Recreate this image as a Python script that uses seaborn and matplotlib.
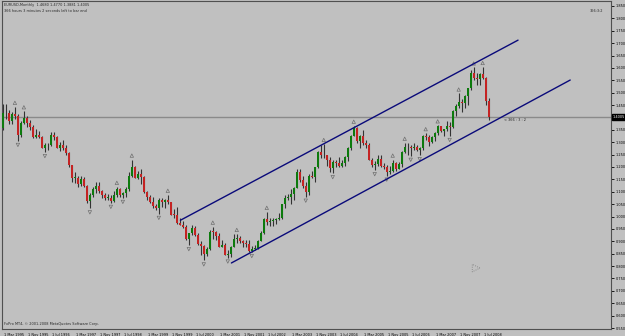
import numpy as np
import pandas as pd
import matplotlib
matplotlib.use("Agg")
import matplotlib.pyplot as plt
import matplotlib.transforms as mtrans
import seaborn as sns

# ---- data: EURUSD monthly candles, Mar 1995 .. Sep 2008 ----
opens = [1.3580, 1.4170, 1.4170, 1.3870, 1.4120, 1.4070, 1.3300, 1.3770, 1.3970, 1.3770,
         1.3630, 1.3220, 1.3300, 1.3220, 1.2780, 1.2870, 1.2870, 1.3300, 1.3220, 1.2780, 1.2870, 1.2780,
         1.2580, 1.2070, 1.1570, 1.1570, 1.1310, 1.1500, 1.1240, 1.0630, 1.0870, 1.1110, 1.1240, 1.1050,
         1.0870, 1.0750, 1.0750, 1.0630, 1.0870, 1.1110, 1.0870, 1.0930, 1.1110, 1.1640, 1.2000, 1.1570,
         1.1710, 1.1600, 1.0990, 1.0790, 1.0580, 1.0430, 1.0350, 1.0680, 1.0580, 1.0660, 1.0570, 1.0080,
         1.0070, 0.9720, 0.9650, 0.9570, 0.9110, 0.9330, 0.9520, 0.9260, 0.8880, 0.8830, 0.8500, 0.8700,
         0.9390, 0.9380, 0.9210, 0.8770, 0.8870, 0.8450, 0.8480, 0.8770, 0.9110, 0.9120, 0.9020, 0.8930,
         0.8900, 0.8600, 0.8700, 0.8720, 0.9010, 0.9330, 0.9920, 0.9780, 0.9800, 0.9860, 0.9890, 0.9940,
         1.0490, 1.0740, 1.0780, 1.0910, 1.1160, 1.1800, 1.1480, 1.1230, 1.0970, 1.1650, 1.1580, 1.1990,
         1.2590, 1.2480, 1.2480, 1.2300, 1.1970, 1.2200, 1.2170, 1.2020, 1.2180, 1.2420, 1.2750, 1.3270,
         1.3560, 1.3040, 1.3260, 1.2960, 1.2870, 1.2300, 1.2100, 1.2130, 1.2330, 1.2020, 1.1990, 1.1790,
         1.1840, 1.2160, 1.1920, 1.2120, 1.2620, 1.2810, 1.2790, 1.2760, 1.2810, 1.2680, 1.2760, 1.3250,
         1.3200, 1.3020, 1.3230, 1.3360, 1.3650, 1.3450, 1.3530, 1.3670, 1.3630, 1.4260, 1.4480, 1.4630,
         1.4590, 1.4860, 1.5170, 1.5790, 1.5610, 1.5550, 1.5750, 1.5600, 1.4680]
highs = [1.4550, 1.4560, 1.4300, 1.4200, 1.4430, 1.4120, 1.3850, 1.4250, 1.4050, 1.3900,
         1.3700, 1.3550, 1.3450, 1.3250, 1.2950, 1.2950, 1.3400, 1.3400, 1.3250, 1.3000, 1.3100, 1.2880,
         1.2620, 1.2100, 1.1800, 1.1650, 1.1650, 1.1600, 1.1280, 1.0950, 1.1200, 1.1400, 1.1400, 1.1080,
         1.0950, 1.0900, 1.0850, 1.1050, 1.1200, 1.1150, 1.1000, 1.1200, 1.1800, 1.2300, 1.2050, 1.1850,
         1.1900, 1.1650, 1.1050, 1.0880, 1.0800, 1.0500, 1.0750, 1.0750, 1.0720, 1.0880, 1.0600, 1.0300,
         1.0400, 0.9950, 0.9800, 0.9650, 0.9350, 0.9650, 0.9600, 0.9350, 0.9000, 0.8850, 0.8750, 0.9450,
         0.9593, 0.9400, 0.9350, 0.9050, 0.8950, 0.8650, 0.8800, 0.9275, 0.9300, 0.9200, 0.9050, 0.9050,
         0.9050, 0.8800, 0.8850, 0.9050, 0.9400, 0.9950, 1.0192, 0.9950, 0.9950, 0.9950, 1.0150, 1.0500,
         1.0850, 1.0900, 1.1100, 1.1200, 1.1930, 1.1930, 1.1650, 1.1400, 1.1700, 1.1850, 1.2000, 1.2650,
         1.2900, 1.2930, 1.2500, 1.2400, 1.2300, 1.2300, 1.2400, 1.2300, 1.2450, 1.2800, 1.3300, 1.3667,
         1.3600, 1.3300, 1.3500, 1.3100, 1.2950, 1.2350, 1.2250, 1.2500, 1.2500, 1.2150, 1.2100, 1.2050,
         1.2300, 1.2200, 1.2200, 1.2650, 1.2979, 1.2950, 1.2900, 1.2950, 1.2900, 1.2800, 1.3300, 1.3367,
         1.3300, 1.3250, 1.3400, 1.3682, 1.3650, 1.3550, 1.3850, 1.3800, 1.4280, 1.4530, 1.4967, 1.4750,
         1.4900, 1.5200, 1.5913, 1.6019, 1.5800, 1.5800, 1.6038, 1.5650, 1.4770]
lows = [1.3500, 1.3950, 1.3750, 1.3750, 1.3950, 1.3050, 1.3200, 1.3750, 1.3600, 1.3500,
        1.3150, 1.3150, 1.3150, 1.2750, 1.2600, 1.2700, 1.2850, 1.3100, 1.2750, 1.2650, 1.2700, 1.2500,
        1.2000, 1.1400, 1.1350, 1.1200, 1.1250, 1.1200, 1.0550, 1.0330, 1.0800, 1.0950, 1.0950, 1.0750,
        1.0650, 1.0650, 1.0550, 1.0600, 1.0800, 1.0800, 1.0750, 1.0800, 1.1050, 1.1600, 1.1550, 1.1500,
        1.1300, 1.0950, 1.0680, 1.0550, 1.0350, 1.0250, 1.0105, 1.0400, 1.0350, 1.0500, 1.0050, 0.9950,
        0.9700, 0.9650, 0.9550, 0.9050, 0.8844, 0.9250, 0.9200, 0.8850, 0.8450, 0.8228, 0.8400, 0.8650,
        0.9100, 0.9050, 0.8750, 0.8750, 0.8450, 0.8344, 0.8348, 0.8750, 0.8950, 0.8950, 0.8750, 0.8750,
        0.8580, 0.8565, 0.8650, 0.8700, 0.9000, 0.9300, 0.9650, 0.9600, 0.9600, 0.9700, 0.9850, 0.9900,
        1.0350, 1.0650, 1.0500, 1.0650, 1.1150, 1.1400, 1.1150, 1.0800, 1.0850, 1.1550, 1.1400, 1.1950,
        1.2350, 1.2350, 1.2050, 1.1800, 1.1750, 1.2000, 1.2000, 1.2000, 1.2050, 1.2250, 1.2700, 1.3250,
        1.2950, 1.2750, 1.2900, 1.2750, 1.2300, 1.2000, 1.1870, 1.2050, 1.2000, 1.1900, 1.1650, 1.1700,
        1.1800, 1.1850, 1.1900, 1.2000, 1.2550, 1.2500, 1.2450, 1.2700, 1.2650, 1.2480, 1.2700, 1.3100,
        1.2866, 1.2950, 1.3050, 1.3300, 1.3400, 1.3265, 1.3450, 1.3250, 1.3580, 1.4070, 1.4400, 1.4200,
        1.4400, 1.4500, 1.5100, 1.5500, 1.5300, 1.5300, 1.5550, 1.4500, 1.3881]
closes = [1.4170, 1.4170, 1.3870, 1.4120, 1.4070, 1.3300, 1.3770, 1.3970, 1.3770, 1.3630,
          1.3220, 1.3300, 1.3220, 1.2780, 1.2870, 1.2870, 1.3300, 1.3220, 1.2780, 1.2870, 1.2780, 1.2580,
          1.2070, 1.1570, 1.1570, 1.1310, 1.1500, 1.1240, 1.0630, 1.0870, 1.1110, 1.1240, 1.1050, 1.0870,
          1.0750, 1.0750, 1.0630, 1.0870, 1.1110, 1.0870, 1.0930, 1.1110, 1.1640, 1.2000, 1.1570, 1.1710,
          1.1600, 1.0990, 1.0790, 1.0580, 1.0430, 1.0350, 1.0680, 1.0580, 1.0660, 1.0570, 1.0080, 1.0070,
          0.9720, 0.9650, 0.9570, 0.9110, 0.9330, 0.9520, 0.9260, 0.8880, 0.8830, 0.8500, 0.8700, 0.9390,
          0.9380, 0.9210, 0.8770, 0.8870, 0.8450, 0.8480, 0.8770, 0.9110, 0.9120, 0.9020, 0.8930, 0.8900,
          0.8600, 0.8700, 0.8720, 0.9010, 0.9330, 0.9920, 0.9780, 0.9800, 0.9860, 0.9890, 0.9940, 1.0490,
          1.0740, 1.0780, 1.0910, 1.1160, 1.1800, 1.1480, 1.1230, 1.0970, 1.1650, 1.1580, 1.1990, 1.2590,
          1.2480, 1.2480, 1.2300, 1.1970, 1.2200, 1.2170, 1.2020, 1.2180, 1.2420, 1.2750, 1.3270, 1.3560,
          1.3040, 1.3260, 1.2960, 1.2870, 1.2300, 1.2100, 1.2130, 1.2330, 1.2020, 1.1990, 1.1790, 1.1840,
          1.2160, 1.1920, 1.2120, 1.2620, 1.2810, 1.2790, 1.2760, 1.2810, 1.2680, 1.2760, 1.3250, 1.3200,
          1.3020, 1.3230, 1.3360, 1.3650, 1.3450, 1.3530, 1.3670, 1.3630, 1.4260, 1.4480, 1.4630, 1.4590,
          1.4860, 1.5170, 1.5790, 1.5610, 1.5550, 1.5750, 1.5600, 1.4680, 1.4005]

tick_months = [0, 8, 16, 24, 32, 40, 48, 56, 64, 72, 80, 88, 96, 104, 112, 120, 128, 136, 144, 152, 160]
tick_labels = ["1 Mar 1995", "1 Nov 1995", "1 Jul 1996", "1 Mar 1997", "1 Nov 1997", "1 Jul 1998",
               "1 Mar 1999", "1 Nov 1999", "1 Jul 2000", "1 Mar 2001", "1 Nov 2001", "1 Jul 2002",
               "1 Mar 2003", "1 Nov 2003", "1 Jul 2004", "1 Mar 2005", "1 Nov 2005", "1 Jul 2006",
               "1 Mar 2007", "1 Nov 2007", "1 Jul 2008"]
price_ticks = [0.55, 0.60, 0.65, 0.70, 0.75, 0.80, 0.85, 0.90, 0.95, 1.00, 1.05, 1.10, 1.15, 1.20,
               1.25, 1.30, 1.35, 1.40, 1.45, 1.50, 1.55, 1.60, 1.65, 1.70, 1.75, 1.80, 1.85]

upper_channel_m = [59.2, 171.8]
upper_channel_p = [0.985, 1.712]
lower_channel_m = [76.2, 189.2]
lower_channel_p = [0.8125, 1.551]
bid_price = 1.4005
arrow_obj_m = [157.8]
arrow_obj_p = [0.792]

header_line1 = "EURUSD,Monthly  1.4680 1.4770 1.3881 1.4005"
header_line2 = "366 hours 3 minutes 2 seconds left to bar end"
timer_top = "366:3:2"
timer_bid = "< 366 : 3 : 2"
footer = "FxPro MT4, \u00a9 2001-2008 MetaQuotes Software Corp."

# ---- styling ----
sns.set_style("white")
plt.rcParams["font.family"] = ["DejaVu Sans"]
BG = "#c0c0c0"
BULL = "#0d7a0d"
BEAR = "#c42323"
WICK = "#333333"
FS = 2.5

fig = plt.figure(figsize=(6.25, 3.36), dpi=100, facecolor=BG)
ax = fig.add_axes([2 / 625, 7 / 336, 609 / 625, 328 / 336])
ax.set_facecolor(BG)

df = pd.DataFrame({"m": np.arange(len(closes)), "open": opens, "high": highs,
                   "low": lows, "close": closes})
df["bull"] = df["close"] >= df["open"]

# bid line
ax.axhline(bid_price, color="#8a8a8a", lw=1.0, zorder=1)

# candles
ax.vlines(df["m"], df["low"], df["high"], colors=WICK, lw=0.8, zorder=2)
body_h = (df["close"] - df["open"]).abs().clip(lower=0.002)
body_b = df[["open", "close"]].min(axis=1)
ax.bar(df["m"], body_h, bottom=body_b, width=0.7,
       color=np.where(df["bull"], BULL, BEAR), linewidth=0, zorder=3)

# fractals (5-bar rule)
h = df["high"].to_numpy()
l = df["low"].to_numpy()
n = len(h)
up_idx = [i for i in range(2, n - 2) if h[i] > max(h[i - 2], h[i - 1], h[i + 1], h[i + 2])]
dn_idx = [i for i in range(2, n - 2) if l[i] < min(l[i - 2], l[i - 1], l[i + 1], l[i + 2])]
ax.scatter(up_idx, h[up_idx] + 0.016, marker="^", s=6, facecolors="none",
           edgecolors="#6f6f6f", linewidths=0.5, zorder=4)
ax.scatter(dn_idx, l[dn_idx] - 0.016, marker="v", s=6, facecolors="none",
           edgecolors="#6f6f6f", linewidths=0.5, zorder=4)

# channel lines
sns.lineplot(x=upper_channel_m, y=upper_channel_p, color="#0a0a7a", lw=1.0, ax=ax, zorder=5)
sns.lineplot(x=lower_channel_m, y=lower_channel_p, color="#0a0a7a", lw=1.0, ax=ax, zorder=5)

# small arrow object
ax.scatter(arrow_obj_m, arrow_obj_p, marker=">", s=30, facecolors="none",
           edgecolors="#7a7a7a", linewidths=0.6, linestyle=":", zorder=4)

ax.set_xlim(-0.3, 202.8)
ax.set_ylim(0.546, 1.870)

# axes / ticks
for s in ax.spines.values():
    s.set_color("#505050")
    s.set_linewidth(0.8)
ax.yaxis.tick_right()
ax.set_yticks(price_ticks)
ax.set_yticklabels([f"{v:.4f}" for v in price_ticks])
ax.tick_params(axis="y", direction="out", length=2, width=0.6, pad=1.2,
               labelsize=FS, colors="black")
ax.set_xticks(tick_months)
ax.set_xticklabels(tick_labels)
ax.tick_params(axis="x", direction="out", length=2.5, width=0.6, pad=0.3,
               labelsize=FS, colors="black")
for lab in ax.get_xticklabels():
    lab.set_horizontalalignment("left")
    lab.set_transform(lab.get_transform() + mtrans.ScaledTranslation(1.5 / 100, 0, fig.dpi_scale_trans))

# current price box on the axis
ytr = mtrans.blended_transform_factory(ax.transAxes, ax.transData)
ax.text(1.003, bid_price, f"{bid_price:.4f}", transform=ytr, fontsize=FS, color="white",
        va="center", ha="left", clip_on=False,
        bbox=dict(boxstyle="square,pad=0.25", facecolor="black", edgecolor="black"), zorder=10)

# texts
ax.text(0.004, 0.994, header_line1, transform=ax.transAxes, fontsize=FS, va="top", ha="left")
ax.text(0.004, 0.977, header_line2, transform=ax.transAxes, fontsize=FS, va="top", ha="left")
ax.text(0.987, 0.977, timer_top, transform=ax.transAxes, fontsize=FS, va="top", ha="right")
ax.text(167.0, bid_price - 0.012, timer_bid, fontsize=FS, va="center", ha="left")
ax.text(0.003, 0.008, footer, transform=ax.transAxes, fontsize=FS, va="bottom", ha="left")

fig.savefig("out.png", dpi=100, facecolor=BG)
